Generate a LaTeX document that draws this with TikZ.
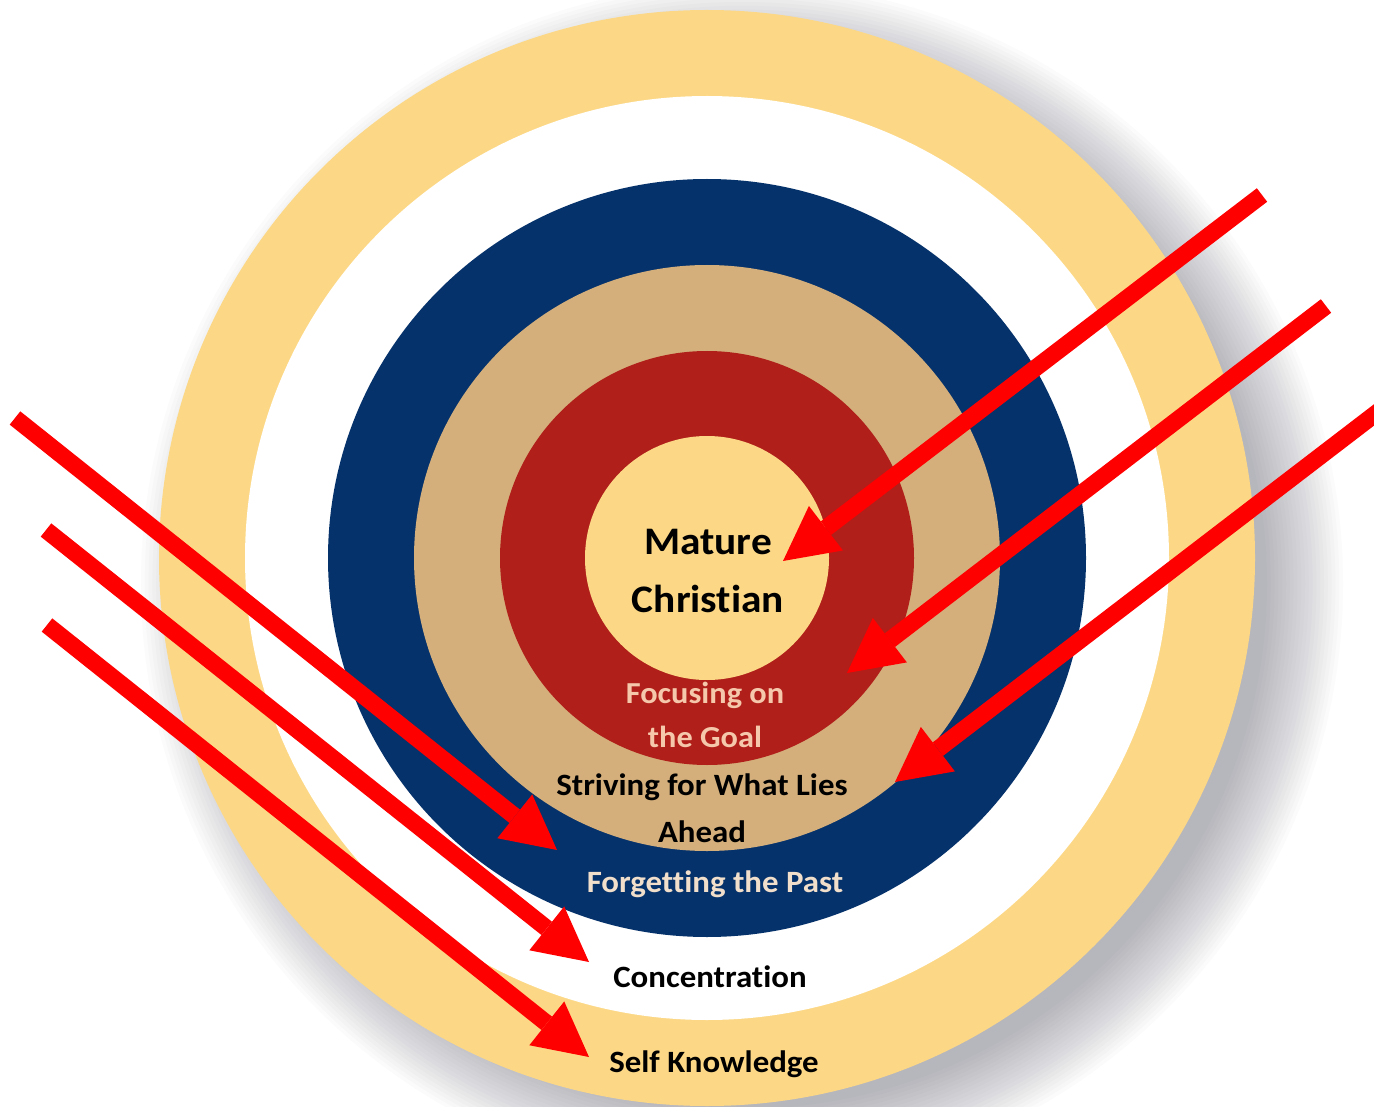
\documentclass[tikz,border=0pt]{standalone}
\usepackage{fontspec}
\setmainfont{Carlito}[FakeStretch=1.06,Ligatures=NoCommon]
\usepackage{tikz}
\usetikzlibrary{arrows.meta}
\usepackage{xcolor}
\definecolor{TargetGold}{HTML}{FCD886}
\definecolor{TargetTan}{HTML}{D4AF7B}
\definecolor{TargetNavy}{HTML}{06326B}
\definecolor{TargetRed}{HTML}{B01F1A}
\definecolor{ArrowRed}{HTML}{FF0000}
\definecolor{GoalPink}{HTML}{F5C8AC}
\definecolor{PastCream}{HTML}{F2DFCB}
\definecolor{ShadeGrey}{HTML}{5A5A6E}

\begin{document}
\begin{tikzpicture}[
    x=1pt,y=-1pt,
    lbl/.style={font=\bfseries,align=center,inner sep=0pt},
    hit/.style={-{Triangle[length=54pt,width=56pt,line width=0pt]},line width=17pt,draw=ArrowRed}
  ]
    \useasboundingbox[fill=white] (0,0) rectangle (1374,1107);
    \coordinate (mid) at (707,558);
    % soft shadow under the target
    \foreach \r in {0,...,20}
      \fill[ShadeGrey,opacity=0.024] (742,584) circle (525+3.8*\r);
    \fill[TargetGold] (mid) circle (548);
    \fill[white] (mid) circle (462);
    \fill[TargetNavy] (mid) circle (379);
    \fill[TargetTan] (mid) circle (293);
    \fill[TargetRed] (mid) circle (207);
    \fill[TargetGold] (mid) circle (122);

    \node[lbl,font=\bfseries\fontsize{39}{58}\selectfont] (core) at (708,571) {Mature\\Christian};
    \node[lbl,text=GoalPink,font=\bfseries\fontsize{30.5}{44}\selectfont] (goal) at (705,715) {Focusing on\\the Goal};
    \node[lbl,font=\bfseries\fontsize{31}{47}\selectfont] (ahead) at (702,808) {Striving for What Lies\\Ahead};
    \node[lbl,anchor=base,text=PastCream,font=\bfseries\fontsize{31}{36}\selectfont] (past) at (715,892) {Forgetting the Past};
    \node[lbl,anchor=base,font=\bfseries\fontsize{31}{36}\selectfont] (focus) at (710,987) {Concentration};
    \node[lbl,anchor=base,font=\bfseries\fontsize{31}{36}\selectfont] (self) at (714,1072) {Self Knowledge};

    \coordinate (r1) at (1262,195);
    \coordinate (t1) at (783,561);
    \coordinate (r2) at (1326,306);
    \coordinate (t2) at (847,673);
    \coordinate (r3) at (1400,395);
    \coordinate (t3) at (895,782);
    \coordinate (l1) at (15,418);
    \coordinate (u1) at (557,850);
    \coordinate (l2) at (46,530);
    \coordinate (u2) at (589,962);
    \coordinate (l3) at (47,625);
    \coordinate (u3) at (589,1057);
    \foreach \a/\b in {r1/t1,r2/t2,r3/t3,l1/u1,l2/u2,l3/u3}
      \draw[hit] (\a)--(\b);
  \end{tikzpicture}
\end{document}
